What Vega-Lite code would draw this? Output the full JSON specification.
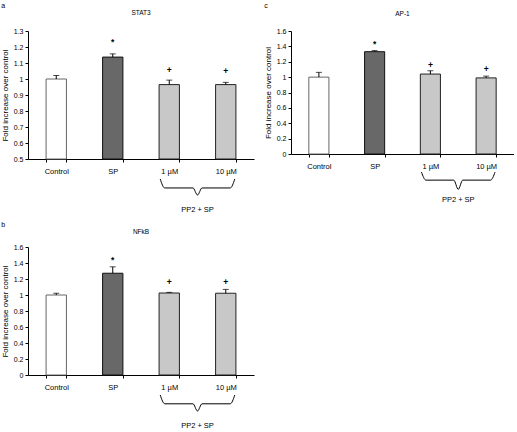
{
  "$schema": "https://vega.github.io/schema/vega-lite/v6.json",
  "padding": {"left": 1, "top": 1, "right": 0, "bottom": 0},
  "background": "white",
  "config": {
    "font": "Liberation Sans",
    "view": {"stroke": null},
    "axis": {"domainColor": "#000", "tickColor": "#000", "labelFont": "Liberation Sans", "labelFontSize": 7, "labelColor": "#000", "titleFont": "Liberation Sans", "titleFontSize": 8, "titleFontWeight": "normal", "titleColor": "#000", "grid": false, "tickSize": 3, "domainWidth": 1, "tickWidth": 1},
    "axisY": {"labelPadding": 2, "titlePadding": 4, "format": "~g", "labelOverlap": false},
    "title": {"font": "Liberation Sans", "fontWeight": "normal", "color": "#000"}
  },
  "datasets": {
    "bars": [
      {"panel": "a", "cond": "Control", "value": 1.0, "upper": 1.022, "sig": "", "sigY": 1.1},
      {"panel": "a", "cond": "SP", "value": 1.137, "upper": 1.157, "sig": "*", "sigY": 1.232},
      {"panel": "a", "cond": "1 µM", "value": 0.965, "upper": 0.993, "sig": "+", "sigY": 1.056},
      {"panel": "a", "cond": "10 µM", "value": 0.965, "upper": 0.979, "sig": "+", "sigY": 1.053},
      {"panel": "b", "cond": "Control", "value": 1.0, "upper": 1.022, "sig": "", "sigY": 1.1},
      {"panel": "b", "cond": "SP", "value": 1.272, "upper": 1.352, "sig": "*", "sigY": 1.44},
      {"panel": "b", "cond": "1 µM", "value": 1.025, "upper": 1.033, "sig": "+", "sigY": 1.16},
      {"panel": "b", "cond": "10 µM", "value": 1.022, "upper": 1.07, "sig": "+", "sigY": 1.165},
      {"panel": "c", "cond": "Control", "value": 1.0, "upper": 1.062, "sig": "", "sigY": 1.1},
      {"panel": "c", "cond": "SP", "value": 1.331, "upper": 1.345, "sig": "*", "sigY": 1.435},
      {"panel": "c", "cond": "1 µM", "value": 1.04, "upper": 1.083, "sig": "+", "sigY": 1.157},
      {"panel": "c", "cond": "10 µM", "value": 0.99, "upper": 1.013, "sig": "+", "sigY": 1.104}
    ],
    "brace": [
      {"panel": "a", "bx": 2.34, "by": 0.375},
      {"panel": "a", "bx": 2.42, "by": 0.319},
      {"panel": "a", "bx": 2.92, "by": 0.319},
      {"panel": "a", "bx": 3.0, "by": 0.275},
      {"panel": "a", "bx": 3.08, "by": 0.319},
      {"panel": "a", "bx": 3.58, "by": 0.319},
      {"panel": "a", "bx": 3.66, "by": 0.375},
      {"panel": "b", "bx": 2.34, "by": -0.25},
      {"panel": "b", "bx": 2.42, "by": -0.36},
      {"panel": "b", "bx": 2.92, "by": -0.36},
      {"panel": "b", "bx": 3.0, "by": -0.45},
      {"panel": "b", "bx": 3.08, "by": -0.36},
      {"panel": "b", "bx": 3.58, "by": -0.36},
      {"panel": "b", "bx": 3.66, "by": -0.25},
      {"panel": "c", "bx": 2.34, "by": -0.235},
      {"panel": "c", "bx": 2.42, "by": -0.34},
      {"panel": "c", "bx": 2.92, "by": -0.34},
      {"panel": "c", "bx": 3.0, "by": -0.46},
      {"panel": "c", "bx": 3.08, "by": -0.34},
      {"panel": "c", "bx": 3.58, "by": -0.34},
      {"panel": "c", "bx": 3.66, "by": -0.235}
    ],
    "lbl": [
      {"panel": "a", "lx": 3.0, "ly": 0.181, "label": "PP2 + SP"},
      {"panel": "b", "lx": 3.0, "ly": -0.64, "label": "PP2 + SP"},
      {"panel": "c", "lx": 3.0, "ly": -0.6, "label": "PP2 + SP"}
    ]
  },
  "spacing": 10,
  "hconcat": [
    {
      "spacing": 6,
      "vconcat": [
        {
          "title": {"text": "a", "anchor": "start", "frame": "bounds", "fontSize": 7, "offset": 1},
          "vconcat": [
            {
              "title": {"text": "STAT3", "anchor": "middle", "frame": "group", "fontSize": 6.5, "offset": 11},
              "width": 226, "height": 128,
              "resolve": {"scale": {"x": "independent"}, "axis": {"x": "independent"}},
              "layer": [
                {
                  "data": {"name": "bars"},
                  "transform": [{"filter": "datum.panel === 'a'"}],
                  "encoding": {"x": {"field": "cond", "type": "nominal", "sort": ["Control", "SP", "1 µM", "10 µM"], "scale": {"paddingInner": 0.64, "paddingOuter": 0.32}, "axis": {"title": null, "labelAngle": 0, "labelPadding": 5, "tickBand": "extent", "labelFontSize": 7.5}}},
                  "layer": [
                    {"mark": {"type": "bar", "strokeWidth": 1}, "encoding": {
                      "y": {"field": "value", "type": "quantitative", "scale": {"domain": [0.5, 1.3]}, "axis": {"values": [0.5, 0.6, 0.7, 0.8, 0.9, 1, 1.1, 1.2, 1.3], "title": "Fold increase over control"}},
                      "y2": {"datum": 0.5},
                      "fill": {"field": "cond", "type": "nominal", "scale": {"domain": ["Control", "SP", "1 µM", "10 µM"], "range": ["#ffffff", "#686868", "#c8c8c8", "#c8c8c8"]}, "legend": null},
                      "stroke": {"field": "cond", "type": "nominal", "scale": {"domain": ["Control", "SP", "1 µM", "10 µM"], "range": ["#666666", "#111111", "#222222", "#222222"]}, "legend": null}}},
                    {"mark": {"type": "rule", "color": "#000"}, "encoding": {"y": {"field": "value", "type": "quantitative", "axis": {"values": [0.5, 0.6, 0.7, 0.8, 0.9, 1, 1.1, 1.2, 1.3], "title": "Fold increase over control"}}, "y2": {"field": "upper"}}},
                    {"mark": {"type": "tick", "color": "#000", "size": 6, "thickness": 1}, "encoding": {"y": {"field": "upper", "type": "quantitative", "axis": {"values": [0.5, 0.6, 0.7, 0.8, 0.9, 1, 1.1, 1.2, 1.3], "title": "Fold increase over control"}}}},
                    {"mark": {"type": "text", "fontSize": 8.5, "baseline": "middle", "fontWeight": "bold", "color": "#000"}, "encoding": {"y": {"field": "sigY", "type": "quantitative", "axis": {"values": [0.5, 0.6, 0.7, 0.8, 0.9, 1, 1.1, 1.2, 1.3], "title": "Fold increase over control"}}, "text": {"field": "sig"}}}
                  ]
                },
                {
                  "layer": [
                    {"data": {"name": "brace"}, "transform": [{"filter": "datum.panel === 'a'"}], "mark": {"type": "line", "interpolate": "monotone", "color": "#000", "strokeWidth": 1},
                     "encoding": {"x": {"field": "bx", "type": "quantitative", "scale": {"domain": [0, 4], "nice": false, "zero": false}, "axis": null}, "y": {"field": "by", "type": "quantitative", "scale": {"domain": [0.5, 1.3]}, "axis": {"values": [0.5, 0.6, 0.7, 0.8, 0.9, 1, 1.1, 1.2, 1.3], "title": "Fold increase over control"}}}},
                    {"data": {"name": "lbl"}, "transform": [{"filter": "datum.panel === 'a'"}], "mark": {"type": "text", "fontSize": 7.5, "baseline": "middle", "color": "#000"},
                     "encoding": {"x": {"field": "lx", "type": "quantitative", "scale": {"domain": [0, 4], "nice": false, "zero": false}, "axis": null}, "y": {"field": "ly", "type": "quantitative", "scale": {"domain": [0.5, 1.3]}, "axis": {"values": [0.5, 0.6, 0.7, 0.8, 0.9, 1, 1.1, 1.2, 1.3], "title": "Fold increase over control"}}, "text": {"field": "label"}}}
                  ]
                }
              ]
            }
          ]
        },
        {
          "title": {"text": "b", "anchor": "start", "frame": "bounds", "fontSize": 7, "offset": 1},
          "vconcat": [
            {
              "title": {"text": "NFkB", "anchor": "middle", "frame": "group", "fontSize": 6.5, "offset": 8},
              "width": 226, "height": 128,
              "resolve": {"scale": {"x": "independent"}, "axis": {"x": "independent"}},
              "layer": [
                {
                  "data": {"name": "bars"},
                  "transform": [{"filter": "datum.panel === 'b'"}],
                  "encoding": {"x": {"field": "cond", "type": "nominal", "sort": ["Control", "SP", "1 µM", "10 µM"], "scale": {"paddingInner": 0.64, "paddingOuter": 0.32}, "axis": {"title": null, "labelAngle": 0, "labelPadding": 5, "tickBand": "extent", "labelFontSize": 7.5}}},
                  "layer": [
                    {"mark": {"type": "bar", "strokeWidth": 1}, "encoding": {
                      "y": {"field": "value", "type": "quantitative", "scale": {"domain": [0, 1.6]}, "axis": {"values": [0, 0.2, 0.4, 0.6, 0.8, 1, 1.2, 1.4, 1.6], "title": "Fold increase over control"}},
                      "fill": {"field": "cond", "type": "nominal", "scale": {"domain": ["Control", "SP", "1 µM", "10 µM"], "range": ["#ffffff", "#686868", "#c8c8c8", "#c8c8c8"]}, "legend": null},
                      "stroke": {"field": "cond", "type": "nominal", "scale": {"domain": ["Control", "SP", "1 µM", "10 µM"], "range": ["#666666", "#111111", "#222222", "#222222"]}, "legend": null}}},
                    {"mark": {"type": "rule", "color": "#000"}, "encoding": {"y": {"field": "value", "type": "quantitative", "axis": {"values": [0, 0.2, 0.4, 0.6, 0.8, 1, 1.2, 1.4, 1.6], "title": "Fold increase over control"}}, "y2": {"field": "upper"}}},
                    {"mark": {"type": "tick", "color": "#000", "size": 6, "thickness": 1}, "encoding": {"y": {"field": "upper", "type": "quantitative", "axis": {"values": [0, 0.2, 0.4, 0.6, 0.8, 1, 1.2, 1.4, 1.6], "title": "Fold increase over control"}}}},
                    {"mark": {"type": "text", "fontSize": 8.5, "baseline": "middle", "fontWeight": "bold", "color": "#000"}, "encoding": {"y": {"field": "sigY", "type": "quantitative", "axis": {"values": [0, 0.2, 0.4, 0.6, 0.8, 1, 1.2, 1.4, 1.6], "title": "Fold increase over control"}}, "text": {"field": "sig"}}}
                  ]
                },
                {
                  "layer": [
                    {"data": {"name": "brace"}, "transform": [{"filter": "datum.panel === 'b'"}], "mark": {"type": "line", "interpolate": "monotone", "color": "#000", "strokeWidth": 1},
                     "encoding": {"x": {"field": "bx", "type": "quantitative", "scale": {"domain": [0, 4], "nice": false, "zero": false}, "axis": null}, "y": {"field": "by", "type": "quantitative", "scale": {"domain": [0, 1.6]}, "axis": {"values": [0, 0.2, 0.4, 0.6, 0.8, 1, 1.2, 1.4, 1.6], "title": "Fold increase over control"}}}},
                    {"data": {"name": "lbl"}, "transform": [{"filter": "datum.panel === 'b'"}], "mark": {"type": "text", "fontSize": 7.5, "baseline": "middle", "color": "#000"},
                     "encoding": {"x": {"field": "lx", "type": "quantitative", "scale": {"domain": [0, 4], "nice": false, "zero": false}, "axis": null}, "y": {"field": "ly", "type": "quantitative", "scale": {"domain": [0, 1.6]}, "axis": {"values": [0, 0.2, 0.4, 0.6, 0.8, 1, 1.2, 1.4, 1.6], "title": "Fold increase over control"}}, "text": {"field": "label"}}}
                  ]
                }
              ]
            }
          ]
        }
      ]
    },
    {
      "vconcat": [
        {
          "title": {"text": "c", "anchor": "start", "frame": "bounds", "fontSize": 7, "offset": 2},
          "vconcat": [
            {
              "title": {"text": "AP-1", "anchor": "middle", "frame": "group", "fontSize": 6.5, "offset": 10},
              "width": 223, "height": 123,
              "resolve": {"scale": {"x": "independent"}, "axis": {"x": "independent"}},
              "layer": [
                {
                  "data": {"name": "bars"},
                  "transform": [{"filter": "datum.panel === 'c'"}],
                  "encoding": {"x": {"field": "cond", "type": "nominal", "sort": ["Control", "SP", "1 µM", "10 µM"], "scale": {"paddingInner": 0.64, "paddingOuter": 0.32}, "axis": {"title": null, "labelAngle": 0, "labelPadding": 5, "tickBand": "extent", "labelFontSize": 7.5}}},
                  "layer": [
                    {"mark": {"type": "bar", "strokeWidth": 1}, "encoding": {
                      "y": {"field": "value", "type": "quantitative", "scale": {"domain": [0, 1.6]}, "axis": {"values": [0, 0.2, 0.4, 0.6, 0.8, 1, 1.2, 1.4, 1.6], "title": "Fold increase over control"}},
                      "fill": {"field": "cond", "type": "nominal", "scale": {"domain": ["Control", "SP", "1 µM", "10 µM"], "range": ["#ffffff", "#686868", "#c8c8c8", "#c8c8c8"]}, "legend": null},
                      "stroke": {"field": "cond", "type": "nominal", "scale": {"domain": ["Control", "SP", "1 µM", "10 µM"], "range": ["#666666", "#111111", "#222222", "#222222"]}, "legend": null}}},
                    {"mark": {"type": "rule", "color": "#000"}, "encoding": {"y": {"field": "value", "type": "quantitative", "axis": {"values": [0, 0.2, 0.4, 0.6, 0.8, 1, 1.2, 1.4, 1.6], "title": "Fold increase over control"}}, "y2": {"field": "upper"}}},
                    {"mark": {"type": "tick", "color": "#000", "size": 6, "thickness": 1}, "encoding": {"y": {"field": "upper", "type": "quantitative", "axis": {"values": [0, 0.2, 0.4, 0.6, 0.8, 1, 1.2, 1.4, 1.6], "title": "Fold increase over control"}}}},
                    {"mark": {"type": "text", "fontSize": 8.5, "baseline": "middle", "fontWeight": "bold", "color": "#000"}, "encoding": {"y": {"field": "sigY", "type": "quantitative", "axis": {"values": [0, 0.2, 0.4, 0.6, 0.8, 1, 1.2, 1.4, 1.6], "title": "Fold increase over control"}}, "text": {"field": "sig"}}}
                  ]
                },
                {
                  "layer": [
                    {"data": {"name": "brace"}, "transform": [{"filter": "datum.panel === 'c'"}], "mark": {"type": "line", "interpolate": "monotone", "color": "#000", "strokeWidth": 1},
                     "encoding": {"x": {"field": "bx", "type": "quantitative", "scale": {"domain": [0, 4], "nice": false, "zero": false}, "axis": null}, "y": {"field": "by", "type": "quantitative", "scale": {"domain": [0, 1.6]}, "axis": {"values": [0, 0.2, 0.4, 0.6, 0.8, 1, 1.2, 1.4, 1.6], "title": "Fold increase over control"}}}},
                    {"data": {"name": "lbl"}, "transform": [{"filter": "datum.panel === 'c'"}], "mark": {"type": "text", "fontSize": 7.5, "baseline": "middle", "color": "#000"},
                     "encoding": {"x": {"field": "lx", "type": "quantitative", "scale": {"domain": [0, 4], "nice": false, "zero": false}, "axis": null}, "y": {"field": "ly", "type": "quantitative", "scale": {"domain": [0, 1.6]}, "axis": {"values": [0, 0.2, 0.4, 0.6, 0.8, 1, 1.2, 1.4, 1.6], "title": "Fold increase over control"}}, "text": {"field": "label"}}}
                  ]
                }
              ]
            }
          ]
        }
      ]
    }
  ]
}
